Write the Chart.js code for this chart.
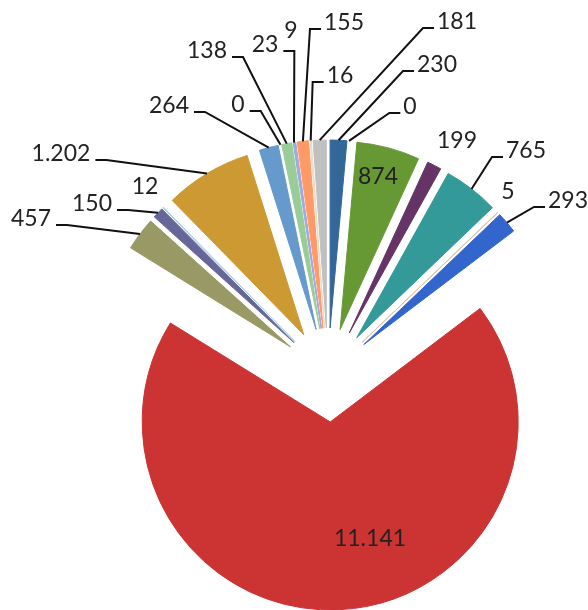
<!DOCTYPE html>
<html>
<head>
<meta charset="utf-8">
<script src="https://cdn.jsdelivr.net/npm/chart.js@4.4.1/dist/chart.umd.min.js"></script>
<style>
  html, body { margin: 0; padding: 0; background: #fff; }
</style>
</head>
<body>
<canvas id="pie" width="588" height="610"></canvas>
<script>
// slice values, clockwise from 12 o'clock
const values = [230, 0, 874, 199, 765, 5, 293, 11141, 457, 150, 12, 1202, 264, 0, 138, 23, 9, 155, 16, 181];
const sliceColors = [
  '#336699', '#f2c48d', '#669933', '#663366', '#339999', '#d6c2a2', '#3366cc',
  '#cc3333', '#999966', '#666699', '#a6d0ea', '#cc9933', '#6699cc', '#b3d1b3',
  '#99cc99', '#8fb0e0', '#b4a2d6', '#ff9966', '#e6dccb', '#c0c0c0'
];
// where each value label sits (text centre) and whether it gets a leader line
const labelPos = [
  [437, 64], [410, 106], [378, 176], [457, 140], [526, 150], [508, 191], [568, 200],
  [370, 538], [31, 218], [92, 203], [145, 186], [61, 153], [169, 105], [238, 104],
  [207, 50], [265, 44], [291, 30], [344, 22], [340, 75], [457, 21]
];
const hasLeader = [true, true, false, false, true, false, true, false, true, true,
  false, true, true, true, true, true, false, true, true, true];

const explode = 47;

function fmt(v) {
  return String(v).replace(/\B(?=(\d{3})+(?!\d))/g, '.');
}

// push every slice out from the centre along its own mid angle
const explodePlugin = {
  id: 'explode',
  afterDatasetsUpdate(chart) {
    chart.getDatasetMeta(0).data.forEach(arc => {
      const mid = (arc.startAngle + arc.endAngle) / 2;
      arc.x += Math.cos(mid) * explode;
      arc.y += Math.sin(mid) * explode;
    });
  }
};

const labelPlugin = {
  id: 'sliceLabels',
  afterDraw(chart) {
    const ctx = chart.ctx;
    const arcs = chart.getDatasetMeta(0).data;
    ctx.save();
    ctx.font = '23px Lato';
    ctx.fillStyle = '#222';
    ctx.strokeStyle = '#111';
    ctx.lineWidth = 2;
    ctx.textAlign = 'center';
    ctx.textBaseline = 'alphabetic';
    arcs.forEach((arc, i) => {
      const [cx, cy] = labelPos[i];
      const text = fmt(values[i]);
      ctx.fillText(text, cx, cy + 8);
      if (!hasLeader[i]) return;
      const mid = (arc.startAngle + arc.endAngle) / 2;
      const px = arc.x + Math.cos(mid) * arc.outerRadius;
      const py = arc.y + Math.sin(mid) * arc.outerRadius;
      const half = ctx.measureText(text).width / 2;
      const y = cy + 7;
      let sx, ex;
      if (px > cx) { sx = cx + half + 5; ex = sx + 11; }
      else { sx = cx - half - 3; ex = sx - 11; }
      ctx.beginPath();
      ctx.moveTo(sx, y);
      ctx.lineTo(ex, y);
      ctx.lineTo(px, py);
      ctx.stroke();
    });
    ctx.restore();
  }
};

new Chart(document.getElementById('pie'), {
  type: 'pie',
  data: {
    labels: values.map(fmt),
    datasets: [{
      data: values,
      backgroundColor: sliceColors,
      borderColor: sliceColors,
      borderWidth: 1,
      radius: 188,
      clip: false
    }]
  },
  options: {
    responsive: false,
    animation: false,
    events: [],
    layout: { padding: { left: 68, right: 0, top: 140, bottom: 0 } },
    plugins: {
      legend: { display: false },
      tooltip: { enabled: false }
    }
  },
  plugins: [explodePlugin, labelPlugin]
});
</script>
</body>
</html>
